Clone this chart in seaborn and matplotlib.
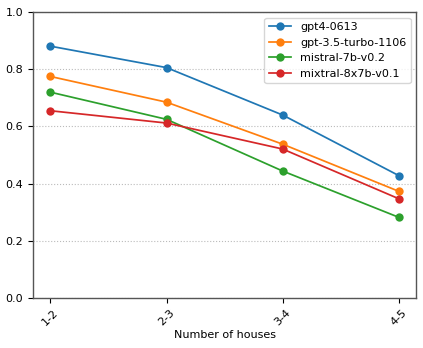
import pandas as pd
import numpy as np
import matplotlib
matplotlib.use("Agg")
import matplotlib.pyplot as plt
import seaborn as sns

houses = ["1-2", "2-3", "3-4", "4-5"]
models = ["gpt4-0613", "gpt-3.5-turbo-1106", "mistral-7b-v0.2", "mixtral-8x7b-v0.1"]
gpt4 = [0.881, 0.806, 0.640, 0.428]
gpt35 = [0.775, 0.685, 0.538, 0.373]
mistral = [0.720, 0.625, 0.444, 0.282]
mixtral = [0.655, 0.612, 0.521, 0.347]

rows = []
for name, vals in zip(models, [gpt4, gpt35, mistral, mixtral]):
    for h, v in zip(houses, vals):
        rows.append({"houses": h, "acc": v, "model": name})
df = pd.DataFrame(rows)

plt.rcParams["font.size"] = 8
fig, ax = plt.subplots(figsize=(4.23, 3.48), dpi=100)
sns.lineplot(data=df, x="houses", y="acc", hue="model", marker="o",
             markersize=6, markeredgewidth=0, linewidth=1.25,
             palette="tab10", ax=ax)
ax.set_ylim(0, 1.0)
ax.set_xlabel("Number of houses", fontsize=8, labelpad=2)
ax.set_ylabel("")
ax.tick_params(labelsize=8, width=0.8, length=3.5)
ax.grid(axis="y", linestyle=":", color="#bbbbbb", linewidth=0.8)
for s in ax.spines.values():
    s.set_color("#555555")
    s.set_linewidth(1.0)
plt.setp(ax.get_xticklabels(), rotation=45)
ax.legend(loc="upper right", title=None, fontsize=8)
plt.subplots_adjust(left=0.078, right=0.984, top=0.965, bottom=0.144)
plt.savefig("out.png", dpi=100)
